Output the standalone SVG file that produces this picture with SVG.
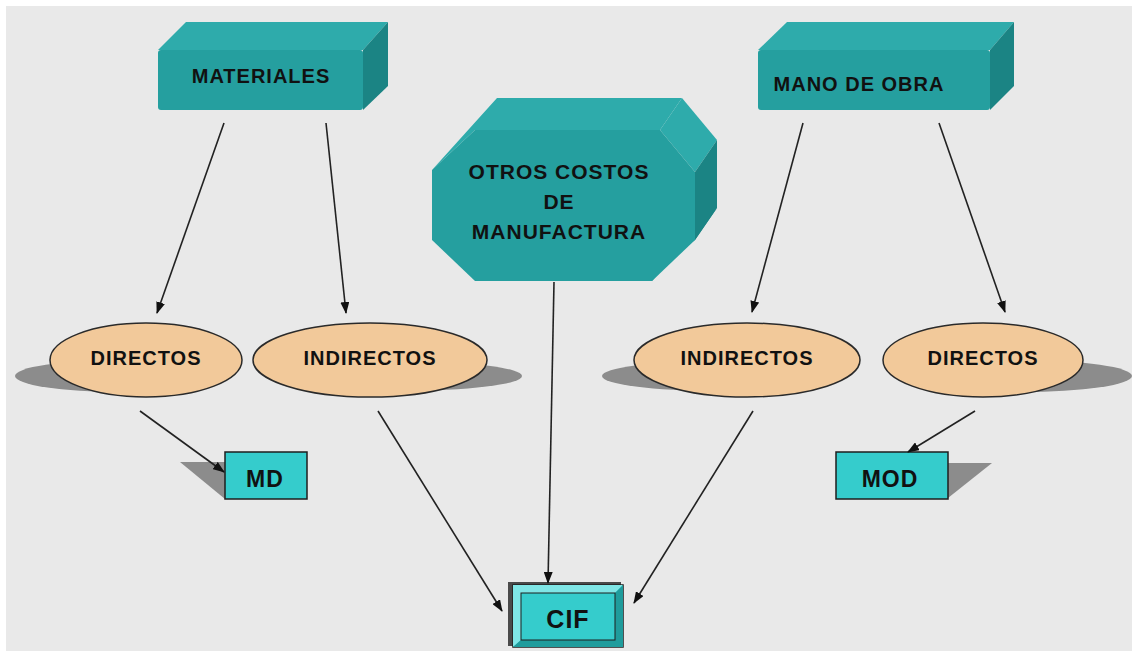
<svg xmlns="http://www.w3.org/2000/svg" width="1132" height="651" viewBox="0 0 1132 651">
<defs>
<style>
.t{font-family:"Liberation Sans",Arial,sans-serif;font-weight:bold;fill:#111;text-anchor:middle;letter-spacing:1px}
.top{fill:#2eabab}
.front{fill:#259f9f}
.side{fill:#1b8484}
.ell{fill:#f2c99a;stroke:#2a2a2a;stroke-width:1.5}
.sh{fill:#8c8c8c}
.box{fill:#35cccc;stroke:#1e1e1e;stroke-width:1.5}
.con{stroke:#222;stroke-width:1.6;fill:none;marker-end:url(#ah)}
</style>
<marker id="ah" markerUnits="userSpaceOnUse" markerWidth="12" markerHeight="9" refX="11" refY="4.5" orient="auto">
<path d="M0,0 L12,4.5 L0,9 z" fill="#111"/>
</marker>
</defs>
<rect x="0" y="0" width="1132" height="651" fill="#ffffff"/>
<rect x="6" y="6" width="1126" height="645" fill="#e9e9e9"/>

<g id="materiales">
<polygon class="top" points="158,50 186,22 388,22 363,50"/>
<polygon class="side" points="363,50 388,22 388,86 363,110"/>
<rect class="front" x="158" y="50" width="205" height="60" rx="3"/>
<text class="t" x="261" y="83" font-size="20">MATERIALES</text>
</g>

<g id="mano-de-obra">
<polygon class="top" points="758,50 787,22 1014,22 990,50"/>
<polygon class="side" points="990,50 1014,22 1014,86 990,110"/>
<rect class="front" x="758" y="50" width="232" height="60" rx="3"/>
<text class="t" x="859" y="91" font-size="20">MANO DE OBRA</text>
</g>

<g id="otros-costos">
<polygon class="top" points="432,170 497,98 682,98 660,130 475,130"/>
<polygon class="top" points="660,130 695,172 717,140 682,98"/>
<polygon class="side" points="695,172 695,240 717,208 717,140"/>
<polygon class="side" points="695,240 640,281 652,281 717,208"/>
<polygon class="front" points="475,130 660,130 695,172 695,240 652,281 475,281 432,240 432,170"/>
<text class="t" x="559" y="179" font-size="21">OTROS COSTOS</text>
<text class="t" x="559" y="209" font-size="21">DE</text>
<text class="t" x="559" y="239" font-size="21">MANUFACTURA</text>
</g>

<g id="directos-mat">
<ellipse class="sh" cx="120" cy="376" rx="105" ry="16"/>
<ellipse class="ell" cx="146" cy="360" rx="96" ry="37"/>
<text class="t" x="146" y="365" font-size="20">DIRECTOS</text>
</g>

<g id="indirectos-mat">
<ellipse class="sh" cx="400" cy="376" rx="122" ry="15"/>
<ellipse class="ell" cx="370" cy="360" rx="117" ry="37"/>
<text class="t" x="370" y="365" font-size="20">INDIRECTOS</text>
</g>

<g id="indirectos-mo">
<ellipse class="sh" cx="717" cy="376" rx="115" ry="15"/>
<ellipse class="ell" cx="747" cy="360" rx="113" ry="37"/>
<text class="t" x="747" y="365" font-size="20">INDIRECTOS</text>
</g>

<g id="directos-mo">
<ellipse class="sh" cx="1022" cy="376" rx="110" ry="16"/>
<ellipse class="ell" cx="983" cy="360" rx="100" ry="37"/>
<text class="t" x="983" y="365" font-size="20">DIRECTOS</text>
</g>

<g id="md">
<polygon class="sh" points="180,462 225,462 225,499"/>
<rect class="box" x="225" y="452" width="82" height="47"/>
<text class="t" x="265" y="487" font-size="23">MD</text>
</g>

<g id="mod">
<polygon class="sh" points="948,463 992,463 948,498"/>
<rect class="box" x="836" y="452" width="112" height="47"/>
<text class="t" x="890" y="487" font-size="23">MOD</text>
</g>

<g id="cif">
<rect x="508" y="582" width="113" height="64" fill="#4a4a4a"/>
<rect x="513" y="585" width="110" height="62" fill="#35cccc" stroke="#1e1e1e" stroke-width="1.5"/>
<polygon points="513,585 623,585 615,593 521,593 521,640 513,647" fill="#7fe6e6"/>
<polygon points="623,585 623,647 513,647 521,640 615,640 615,593" fill="#1f9c9c"/>
<rect x="521" y="593" width="94" height="47" fill="#35cccc" stroke="#1e1e1e" stroke-width="1"/>
<text class="t" x="568" y="628" font-size="25">CIF</text>
</g>

<g id="connectors">
<line class="con" x1="224" y1="123" x2="157" y2="313"/>
<line class="con" x1="326" y1="123" x2="346" y2="313"/>
<line class="con" x1="803" y1="123" x2="752" y2="312"/>
<line class="con" x1="939" y1="123" x2="1005" y2="312"/>
<line class="con" x1="554" y1="282" x2="548" y2="583"/>
<line class="con" x1="140" y1="411" x2="224" y2="472"/>
<line class="con" x1="378" y1="411" x2="502" y2="611"/>
<line class="con" x1="753" y1="411" x2="634" y2="603"/>
<line class="con" x1="975" y1="411" x2="908" y2="452"/>
</g>
</svg>
